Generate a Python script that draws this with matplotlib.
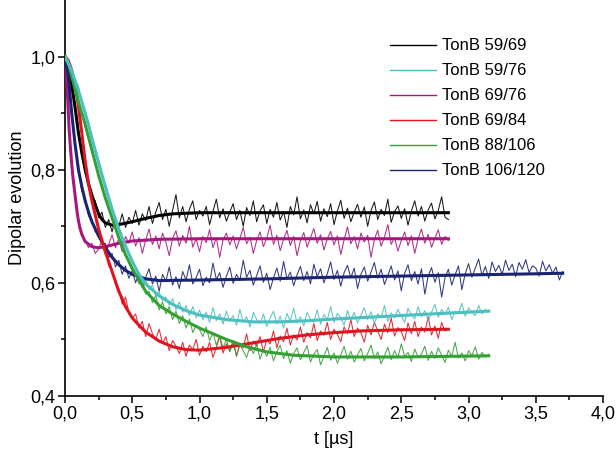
import numpy as np
import matplotlib
matplotlib.use("Agg")
import matplotlib.pyplot as plt
from matplotlib.ticker import FuncFormatter, FixedLocator, MultipleLocator
from matplotlib.lines import Line2D

plt.rcParams['font.family'] = ['Liberation Sans', 'DejaVu Sans']

labels = ["TonB 59/69", "TonB 59/76", "TonB 69/76", "TonB 69/84", "TonB 88/106", "TonB 106/120"]
colors = ["#000000", "#4CBFBF", "#A8177E", "#E0141E", "#34A034", "#1A2470"]

dt = 0.025  # sampling step of the measured traces (µs)

# ---- measured (noisy) traces, one value per dt ----
raw_59_69 = [1.000, 0.988, 0.947, 0.915, 0.860, 0.836, 0.795, 0.781, 0.750, 0.745,
             0.715, 0.725, 0.698, 0.712, 0.690, 0.715, 0.700, 0.722, 0.698, 0.716,
             0.705, 0.728, 0.702, 0.722, 0.710, 0.735, 0.705, 0.725, 0.742, 0.712,
             0.730, 0.700, 0.728, 0.756, 0.715, 0.735, 0.708, 0.730, 0.745, 0.712,
             0.728,
             0.718, 0.735, 0.703, 0.726, 0.748, 0.715, 0.731, 0.709, 0.725, 0.740,
             0.712, 0.728, 0.700, 0.733, 0.719, 0.745, 0.708, 0.727, 0.738, 0.705,
             0.730, 0.716, 0.742, 0.711, 0.726, 0.698, 0.735, 0.720, 0.752, 0.713,
             0.729, 0.706, 0.738, 0.722, 0.744, 0.709, 0.731, 0.717, 0.740, 0.703,
             0.727, 0.746, 0.714, 0.732, 0.708, 0.725, 0.739, 0.716, 0.734, 0.700,
             0.728, 0.743, 0.712, 0.730, 0.719, 0.748, 0.707, 0.726, 0.736, 0.714,
             0.731, 0.702, 0.727, 0.745, 0.718, 0.735, 0.709, 0.729, 0.741, 0.713,
             0.728, 0.752, 0.716, 0.712]

raw_59_76 = [1.000, 0.995, 0.982, 0.958, 0.948, 0.920, 0.905, 0.885, 0.862, 0.838,
             0.818, 0.790, 0.775, 0.752, 0.735, 0.712, 0.700, 0.680, 0.668, 0.650,
             0.642, 0.625, 0.618, 0.600, 0.605, 0.588, 0.596, 0.575, 0.584, 0.568,
             0.575, 0.560, 0.572, 0.552, 0.566, 0.548, 0.560, 0.542, 0.558, 0.538,
             0.552, 0.535, 0.548, 0.530, 0.556, 0.533, 0.545, 0.527, 0.550, 0.532,
             0.542, 0.525, 0.553, 0.530, 0.540, 0.522, 0.548, 0.535, 0.528, 0.545,
             0.523, 0.538, 0.550, 0.527, 0.541, 0.520, 0.546, 0.533, 0.555, 0.529,
             0.540, 0.524, 0.548, 0.536, 0.531, 0.552, 0.527, 0.544, 0.535, 0.558,
             0.530, 0.546, 0.538, 0.525, 0.551, 0.534, 0.548, 0.529, 0.543, 0.556,
             0.535, 0.549, 0.528, 0.545, 0.539, 0.560, 0.532, 0.547, 0.538, 0.553,
             0.541, 0.530, 0.555, 0.543, 0.536, 0.558, 0.540, 0.551, 0.533, 0.548,
             0.562, 0.539, 0.553, 0.544, 0.557, 0.535, 0.550, 0.546, 0.564, 0.541,
             0.556, 0.548, 0.542, 0.560, 0.545, 0.553, 0.549]

raw_69_76 = [1.000, 0.905, 0.800, 0.752, 0.712, 0.683, 0.676, 0.662, 0.670, 0.652,
             0.660, 0.675, 0.650, 0.668, 0.685, 0.662, 0.678, 0.655, 0.682, 0.670,
             0.690, 0.665, 0.680, 0.652, 0.676, 0.695, 0.668, 0.683, 0.660, 0.688,
             0.672, 0.648, 0.679, 0.692, 0.665, 0.684, 0.670, 0.700, 0.663, 0.678,
             0.655, 0.682, 0.671, 0.694, 0.662, 0.680, 0.645, 0.676, 0.688, 0.667,
             0.683, 0.660, 0.678, 0.698, 0.669, 0.681, 0.652, 0.675, 0.690, 0.664,
             0.679, 0.702, 0.668, 0.684, 0.657, 0.677, 0.693, 0.666, 0.682, 0.648,
             0.674, 0.689, 0.663, 0.680, 0.696, 0.670, 0.685, 0.658, 0.678, 0.691,
             0.667, 0.683, 0.650, 0.676, 0.699, 0.669, 0.682, 0.660, 0.688, 0.672,
             0.684, 0.645, 0.677, 0.693, 0.665, 0.681, 0.703, 0.668, 0.680, 0.656,
             0.675, 0.690, 0.666, 0.683, 0.652, 0.678, 0.695, 0.670, 0.686, 0.663,
             0.679, 0.694, 0.668, 0.682, 0.675]

raw_69_84 = [1.000, 0.985, 0.972, 0.950, 0.915, 0.862, 0.818, 0.770, 0.748, 0.718,
             0.695, 0.672, 0.660, 0.630, 0.622, 0.598, 0.590, 0.562, 0.575, 0.548,
             0.538, 0.545, 0.520, 0.532, 0.505, 0.528, 0.510, 0.500, 0.518, 0.493,
             0.505, 0.480, 0.498, 0.488, 0.475, 0.495, 0.470, 0.490, 0.482, 0.500,
             0.472, 0.488, 0.478, 0.495, 0.468, 0.486, 0.505, 0.476, 0.492, 0.480,
             0.498, 0.470, 0.493, 0.485, 0.510, 0.480, 0.497, 0.488, 0.505, 0.478,
             0.500, 0.492, 0.515, 0.485, 0.506, 0.496, 0.520, 0.490, 0.508, 0.499,
             0.522, 0.495, 0.512, 0.503, 0.528, 0.498, 0.515, 0.507, 0.530, 0.500,
             0.518, 0.509, 0.496, 0.522, 0.510, 0.535, 0.505, 0.520, 0.512, 0.495,
             0.525, 0.508, 0.530, 0.515, 0.500, 0.527, 0.512, 0.538, 0.506, 0.521,
             0.514, 0.498, 0.529, 0.510, 0.532, 0.505, 0.522, 0.513, 0.540, 0.508,
             0.524, 0.502, 0.530, 0.515, 0.519]

raw_88_106 = [1.000, 0.992, 0.960, 0.945, 0.918, 0.902, 0.878, 0.860, 0.832, 0.815,
              0.788, 0.772, 0.748, 0.735, 0.712, 0.698, 0.676, 0.668, 0.648, 0.640,
              0.622, 0.615, 0.598, 0.608, 0.580, 0.585, 0.565, 0.578, 0.552, 0.566,
              0.545, 0.558, 0.535, 0.550, 0.528, 0.542, 0.520, 0.536, 0.512, 0.525,
              0.518, 0.505, 0.522, 0.498, 0.512, 0.490, 0.506, 0.485, 0.500, 0.478,
              0.495, 0.472, 0.490, 0.480, 0.468, 0.488, 0.475, 0.492, 0.465, 0.482,
              0.470, 0.486, 0.462, 0.478, 0.490, 0.466, 0.480, 0.458, 0.475, 0.485,
              0.464, 0.477, 0.489, 0.460, 0.474, 0.482, 0.455, 0.470, 0.486, 0.463,
              0.476, 0.458, 0.472, 0.488, 0.465, 0.479, 0.460, 0.473, 0.484, 0.462,
              0.475, 0.490, 0.466, 0.478, 0.457, 0.471, 0.486, 0.464, 0.480, 0.468,
              0.492, 0.470, 0.477, 0.461, 0.483, 0.468, 0.474, 0.488, 0.463, 0.479,
              0.466, 0.485, 0.472, 0.459, 0.481, 0.470, 0.495, 0.467, 0.476, 0.462,
              0.480, 0.471, 0.487, 0.465, 0.477, 0.469, 0.474]

raw_106_120 = [1.000, 0.962, 0.905, 0.838, 0.805, 0.762, 0.750, 0.718, 0.712, 0.690,
               0.688, 0.668, 0.670, 0.645, 0.652, 0.628, 0.640, 0.615, 0.630, 0.608,
               0.622, 0.600, 0.618, 0.592, 0.610, 0.625, 0.598, 0.612, 0.585, 0.615,
               0.603, 0.628, 0.596, 0.611, 0.590, 0.620, 0.605, 0.632, 0.598, 0.609,
               0.624, 0.595, 0.610, 0.600, 0.635, 0.606, 0.618, 0.592, 0.612, 0.628,
               0.599, 0.615, 0.604, 0.640, 0.610, 0.622, 0.596, 0.613, 0.630, 0.601,
               0.617, 0.588, 0.609, 0.626, 0.603, 0.638, 0.607, 0.619, 0.595, 0.614,
               0.629, 0.604, 0.620, 0.598, 0.633, 0.611, 0.625, 0.600, 0.616, 0.637,
               0.606, 0.622, 0.594, 0.618, 0.631, 0.609, 0.626, 0.590, 0.615, 0.628,
               0.603, 0.619, 0.636, 0.608, 0.624, 0.597, 0.613, 0.630, 0.605, 0.621,
               0.586, 0.617, 0.632, 0.604, 0.620, 0.598, 0.625, 0.580, 0.612, 0.627,
               0.601, 0.618, 0.575, 0.609, 0.624, 0.596, 0.614, 0.630, 0.588, 0.616,
               0.634, 0.610, 0.626, 0.642, 0.613, 0.629, 0.608, 0.637, 0.620, 0.631,
               0.615, 0.640, 0.622, 0.633, 0.611, 0.636, 0.624, 0.641, 0.618, 0.630,
               0.626, 0.612, 0.638, 0.621, 0.632, 0.617, 0.628, 0.605, 0.620]

# ---- fitted curves (time points, values) ----
fit_t_59_69 = [0, 0.025, 0.05, 0.075, 0.1, 0.125, 0.15, 0.175, 0.2, 0.225, 0.25, 0.275, 0.3,
               0.35, 0.4, 0.5, 0.6, 0.7, 0.8, 1.0, 1.5, 2.0, 2.85]
fit_v_59_69 = [1.0, 0.985, 0.95, 0.91, 0.865, 0.83, 0.80, 0.775, 0.755, 0.738, 0.722, 0.712, 0.706,
               0.702, 0.703, 0.708, 0.714, 0.719, 0.722, 0.724, 0.724, 0.724, 0.724]

fit_t_59_76 = [0, 0.05, 0.1, 0.15, 0.2, 0.25, 0.3, 0.35, 0.4, 0.45, 0.5, 0.55, 0.6, 0.7, 0.8,
               0.9, 1.0, 1.2, 1.4, 1.6, 1.8, 2.0, 2.4, 2.8, 3.15]
fit_v_59_76 = [1.0, 0.975, 0.94, 0.90, 0.855, 0.812, 0.77, 0.73, 0.695, 0.665, 0.638, 0.615, 0.598,
               0.577, 0.562, 0.551, 0.543, 0.535, 0.531, 0.531, 0.533, 0.536, 0.541, 0.546, 0.55]

fit_t_69_76 = [0, 0.01, 0.02, 0.03, 0.04, 0.05, 0.06, 0.07, 0.08, 0.09, 0.1, 0.11, 0.125, 0.15,
               0.2, 0.25, 0.3, 0.4, 0.5, 0.7, 1.0, 2.85]
fit_v_69_76 = [1.0, 0.975, 0.925, 0.875, 0.84, 0.81, 0.785, 0.765, 0.745, 0.725, 0.71, 0.698,
               0.686, 0.673, 0.664, 0.662, 0.664, 0.670, 0.674, 0.677, 0.678, 0.678]

fit_t_69_84 = [0, 0.025, 0.05, 0.075, 0.1, 0.125, 0.15, 0.175, 0.2, 0.25, 0.3, 0.35, 0.4, 0.45,
               0.5, 0.55, 0.6, 0.7, 0.8, 0.9, 1.0, 1.2, 1.4, 1.6, 1.8, 2.0, 2.2, 2.5, 2.85]
fit_v_69_84 = [1.0, 0.993, 0.975, 0.952, 0.912, 0.865, 0.815, 0.775, 0.745, 0.695, 0.655, 0.62,
               0.585, 0.558, 0.538, 0.525, 0.513, 0.497, 0.487, 0.482, 0.481, 0.486, 0.494,
               0.502, 0.508, 0.512, 0.515, 0.517, 0.518]

fit_t_88_106 = [0, 0.025, 0.05, 0.1, 0.15, 0.2, 0.25, 0.3, 0.35, 0.4, 0.45, 0.5, 0.6, 0.7, 0.8,
                0.9, 1.0, 1.2, 1.35, 1.5, 1.7, 2.0, 2.5, 3.15]
fit_v_88_106 = [1.0, 0.99, 0.965, 0.92, 0.88, 0.835, 0.79, 0.75, 0.715, 0.68, 0.65, 0.625, 0.585,
                0.56, 0.545, 0.532, 0.52, 0.50, 0.487, 0.478, 0.472, 0.469, 0.469, 0.471]

fit_t_106_120 = [0, 0.025, 0.05, 0.075, 0.1, 0.125, 0.15, 0.175, 0.2, 0.25, 0.3, 0.35, 0.4, 0.45,
                 0.5, 0.6, 0.7, 1.0, 1.5, 2.0, 2.5, 3.0, 3.5, 3.7]
fit_v_106_120 = [1.0, 0.965, 0.90, 0.845, 0.80, 0.77, 0.745, 0.725, 0.708, 0.683, 0.662, 0.645,
                 0.632, 0.622, 0.615, 0.607, 0.604, 0.605, 0.607, 0.610, 0.612, 0.614, 0.616, 0.617]

raws = [raw_59_69, raw_59_76, raw_69_76, raw_69_84, raw_88_106, raw_106_120]
fits = [(fit_t_59_69, fit_v_59_69), (fit_t_59_76, fit_v_59_76), (fit_t_69_76, fit_v_69_76),
        (fit_t_69_84, fit_v_69_84), (fit_t_88_106, fit_v_88_106), (fit_t_106_120, fit_v_106_120)]

fig = plt.figure(figsize=(6.16, 4.58), dpi=100)
ax = fig.add_axes([0.1055, 0.1354, 0.8735, 0.8646])

draw_order = [0, 2, 5, 3, 4, 1]
for i in draw_order:
    r = raws[i]
    t = np.arange(len(r)) * dt
    ax.plot(t, r, color=colors[i], lw=0.75, alpha=0.9, zorder=2)
    ft, fv = fits[i]
    ax.plot(ft, fv, color=colors[i], lw=2.2, solid_joinstyle='round', zorder=3)

ax.set_xlim(0, 4.0)
ax.set_ylim(0.4, 1.1)
ax.xaxis.set_major_locator(MultipleLocator(0.5))
ax.xaxis.set_minor_locator(FixedLocator(np.arange(0.25, 4.0, 0.5)))
ax.yaxis.set_major_locator(FixedLocator([0.4, 0.6, 0.8, 1.0]))
ax.yaxis.set_minor_locator(FixedLocator([0.5, 0.7, 0.9]))
comma = FuncFormatter(lambda v, p: f"{v:.1f}".replace(".", ","))
ax.xaxis.set_major_formatter(comma)
ax.yaxis.set_major_formatter(comma)

for s in ["top", "right"]:
    ax.spines[s].set_visible(False)
for s in ["left", "bottom"]:
    ax.spines[s].set_linewidth(1.2)
ax.tick_params(which='major', direction='out', length=5, width=1.1, labelsize=13, pad=2)
ax.tick_params(which='minor', direction='out', length=3, width=1.1)

ax.set_xlabel("t [µs]", fontsize=13, labelpad=6)
ax.set_ylabel("Dipolar evolution", fontsize=13, labelpad=3)

handles = [Line2D([0], [0], color=c, lw=1.0) for c in colors]
leg = ax.legend(handles, labels, loc='upper left', bbox_to_anchor=(0.633, 0.916),
                bbox_transform=fig.transFigure, frameon=False, fontsize=12,
                handlelength=2.75, handletextpad=0.36, labelspacing=0.6,
                borderpad=0, borderaxespad=0)

fig.savefig("out.png", dpi=100)
